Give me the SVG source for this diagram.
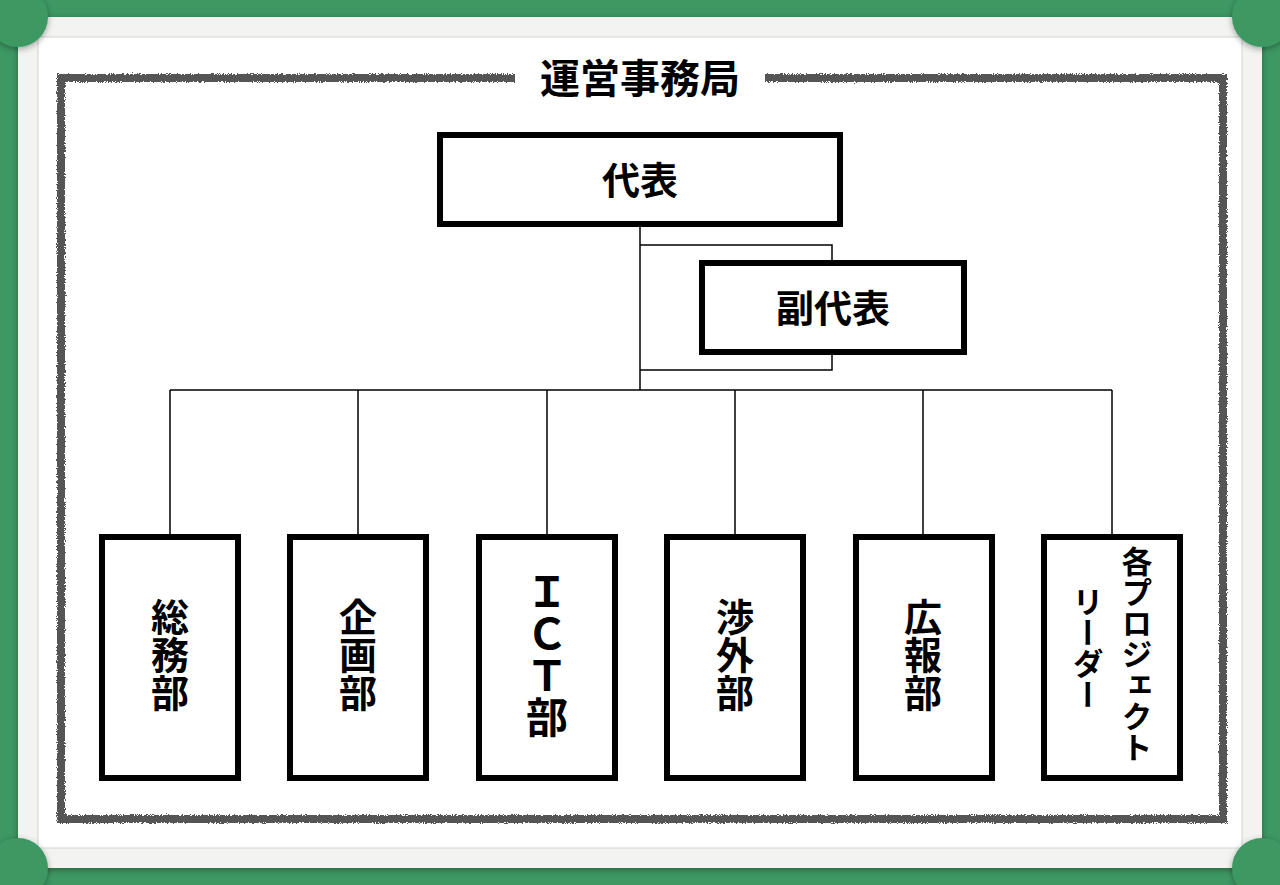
<svg xmlns="http://www.w3.org/2000/svg" width="1280" height="885" viewBox="0 0 1280 885">
<defs>
<filter id="rough" x="-5%" y="-5%" width="110%" height="110%"><feTurbulence type="fractalNoise" baseFrequency="0.9" numOctaves="2" seed="3"/><feDisplacementMap in="SourceGraphic" scale="4"/></filter>
<filter id="sh" x="-20%" y="-20%" width="140%" height="140%"><feDropShadow dx="0" dy="2" stdDeviation="3" flood-opacity="0.35"/></filter>
</defs>
<style>
.box{fill:#fff;stroke:#000;stroke-width:6}
.ln{fill:none;stroke:#000;stroke-width:1.5}
.t{font-family:"Noto Sans CJK JP","Noto Sans",sans-serif;font-weight:bold;fill:#000}
.v{writing-mode:vertical-rl;text-orientation:upright}
</style>
<rect width="1280" height="885" fill="#3d9862"/>
<rect x="18" y="17" width="1244" height="851" fill="#f3f3f1" filter="url(#sh)"/>
<rect x="38" y="37" width="1204" height="811" fill="#fff" stroke="#cfd8d2" stroke-width="1"/>
<circle cx="18" cy="17" r="30" fill="#3d9862" filter="url(#sh)"/>
<circle cx="1262" cy="17" r="30" fill="#3d9862" filter="url(#sh)"/>
<circle cx="18" cy="868" r="30" fill="#3d9862" filter="url(#sh)"/>
<circle cx="1262" cy="868" r="30" fill="#3d9862" filter="url(#sh)"/>
<rect x="61" y="78" width="1162" height="741" fill="none" stroke="#555" stroke-width="8" filter="url(#rough)"/>
<rect x="515" y="55" width="250" height="45" fill="#fff"/>
<text class="t" x="640" y="93" font-size="40" text-anchor="middle">運営事務局</text>
<g id="connectors">
<path class="ln" d="M640 224V390M170 390H1112M640 245H832V263M640 370H832V352"/>
<path class="ln" d="M170 390V537M358 390V537M547 390V537M735 390V537M923 390V537M1112 390V537"/>
</g>
<g id="n-daihyo"><rect class="box" x="440" y="135" width="400" height="89"/><text class="t" x="640" y="194" font-size="38" text-anchor="middle">代表</text></g>
<g id="n-fuku"><rect class="box" x="702" y="263" width="262" height="89"/><text class="t" x="833" y="322" font-size="38" text-anchor="middle">副代表</text></g>
<g id="n-somu"><rect class="box" x="102" y="537" width="136" height="241"/><text class="t v" x="170" y="598" font-size="38">総務部</text></g>
<g id="n-kikaku"><rect class="box" x="290" y="537" width="136" height="241"/><text class="t v" x="358" y="598" font-size="38">企画部</text></g>
<g id="n-ict"><rect class="box" x="479" y="537" width="136" height="241"/><text class="t v" x="547" y="570" font-size="42">ＩＣＴ部</text></g>
<g id="n-shogai"><rect class="box" x="667" y="537" width="136" height="241"/><text class="t v" x="735" y="598" font-size="38">渉外部</text></g>
<g id="n-koho"><rect class="box" x="856" y="537" width="136" height="241"/><text class="t v" x="923" y="598" font-size="38">広報部</text></g>
<g id="n-pl"><rect class="box" x="1044" y="537" width="136" height="241"/><text class="t v" x="1137" y="546" font-size="31">各プロジェクト</text><text class="t v" x="1088" y="586" font-size="31">リーダー</text></g>
</svg>
